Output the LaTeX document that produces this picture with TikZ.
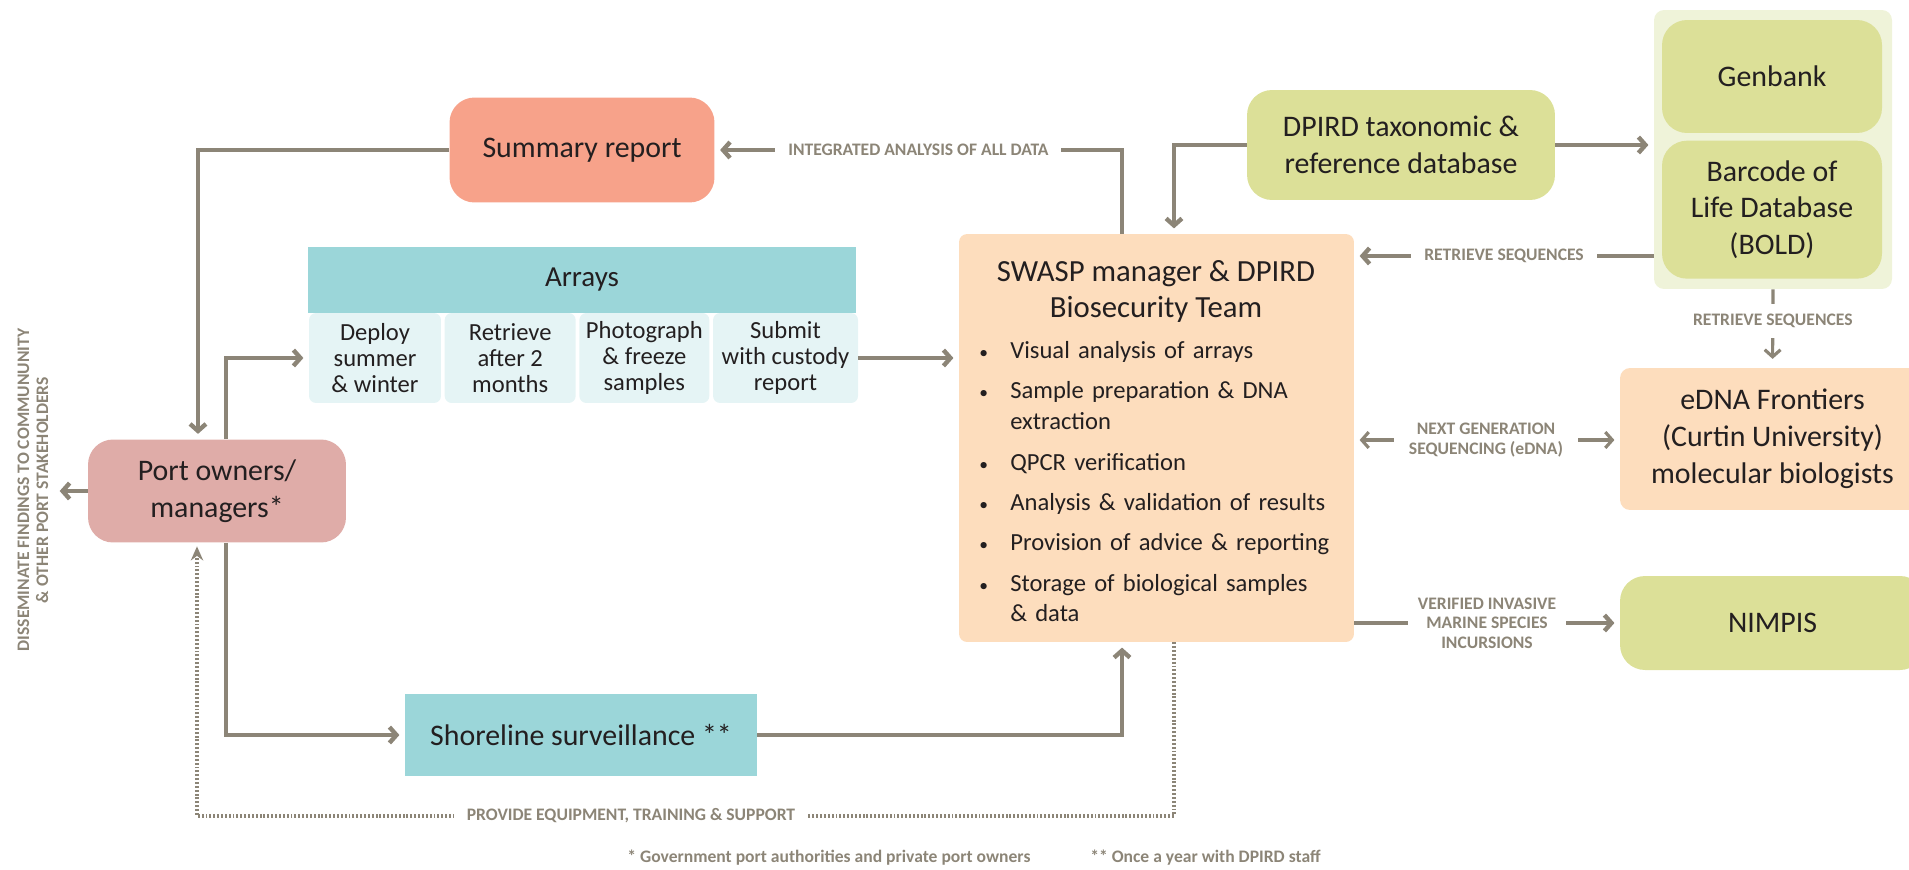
\documentclass[tikz,border=0pt]{standalone}
\usepackage{fontspec}
\setmainfont{Carlito}
\usetikzlibrary{arrows.meta,calc}
\usetikzlibrary{positioning}

\newcommand{\switem}[1]{\noindent\makebox[0.64cm][l]{\hspace{0.02cm}{\fontsize{10}{10}\selectfont\textbullet}}\parbox[t]{6.66cm}{\raggedright #1\par\xdef\swdepth{\the\prevdepth}}\par\prevdepth=\swdepth\relax}

\begin{document}
\begin{tikzpicture}[x=0.02cm,y=-0.02cm,
    box/.style={rounded corners=0.5cm,align=center,inner sep=0pt,text=ink,font=\fontsize{17}{21}\selectfont},
    substep/.style={fill=palecyan,rounded corners=0.14cm,align=center,inner sep=0pt,text=ink,minimum height=1.8cm,font=\fontsize{14}{14.6}\selectfont},
    flow/.style={draw=linegray,line width=2.5pt,-{Straight Barb[length=4pt,width=9pt]},shorten >=3pt},
    thinflow/.style={flow,line width=1.8pt},
    dotflow/.style={draw=linegray,line width=2.2pt,dash pattern=on 1.1pt off 1.1pt,-{Stealth[length=8pt,width=7pt]},shorten >=2pt},
    lbl/.style={fill=white,text=linegray,align=center,inner xsep=0.26cm,inner ysep=1pt,font=\fontsize{10}{11}\bfseries\selectfont},
    notetext/.style={text=linegray,inner sep=0pt,font=\fontsize{10}{11}\bfseries\selectfont}]
    \definecolor{ink}{HTML}{231F20}
    \definecolor{linegray}{HTML}{8C8577}
    \definecolor{salmon}{HTML}{F7A28A}
    \definecolor{dustypink}{HTML}{DFACA8}
    \definecolor{arrayteal}{HTML}{9BD6D9}
    \definecolor{palecyan}{HTML}{E5F4F5}
    \definecolor{peach}{HTML}{FDDDBD}
    \definecolor{dbgreen}{HTML}{DCE098}
    \definecolor{dbback}{HTML}{EFF3D9}
    \useasboundingbox (0,0) rectangle (1909,869);

    % left column
    \node (summary) [box,fill=salmon,minimum width=5.3cm,minimum height=2.1cm] at (582,150) {Summary report};
    \node (port) [box,fill=dustypink,minimum width=5.16cm,minimum height=2.06cm] at (217,491) {Port owners/\\managers*};
    \node (dissem) [notetext,rotate=90,align=center,font=\fontsize{10}{10.8}\bfseries\selectfont] at (33,490) {DISSEMINATE FINDINGS TO COMMUNUNITY\\\& OTHER PORT STAKEHOLDERS};

    % arrays
    \node (arrays) [fill=arrayteal,inner sep=0pt,text=ink,minimum width=10.96cm,minimum height=1.32cm,font=\fontsize{16.5}{20}\selectfont] at (582,280) {Arrays};
    \node (deploy) [substep,minimum width=2.64cm] at (375,358) {Deploy\\summer\\\& winter};
    \node (retrieve) [substep,minimum width=2.62cm,right=0.06cm of deploy] {Retrieve\\after 2\\months};
    \node (photo) [substep,minimum width=2.6cm,right=0.06cm of retrieve] {Photograph\\\& freeze\\samples};
    \node (submit) [substep,minimum width=2.9cm,right=0.06cm of photo] {Submit\\with custody\\report};

    \node (shore) [fill=arrayteal,inner sep=0pt,text=ink,minimum width=7.04cm,minimum height=1.64cm,font=\fontsize{17}{21}\selectfont] at (581,735) {Shoreline surveillance **};

    % swasp team
    \node (swasp) [fill=peach,rounded corners=0.16cm,minimum width=7.9cm,minimum height=8.16cm] at (1156.5,438) {};
    \node (swasptitle) [align=center,text=ink,inner sep=0pt,font=\fontsize{17.5}{20.5}\selectfont] at (1156,291) {SWASP manager \& DPIRD\\Biosecurity Team};
    \node (swasplist) [anchor=north west,inner sep=0pt,text=ink,align=left,text width=7.3cm,font=\fontsize{14}{17.5}\selectfont] at (978,341) {%
      \setlength{\parskip}{5.5pt}%
      \switem{Visual analysis of arrays}
      \switem{Sample preparation \& DNA\\extraction}
      \switem{QPCR verification}
      \switem{Analysis \& validation of results}
      \switem{Provision of advice \& reporting}
      \switem{Storage of biological samples\\\& data}};

    % databases
    \node (dpird) [box,fill=dbgreen,minimum width=6.16cm,minimum height=2.2cm] at (1401,145) {DPIRD taxonomic \&\\reference database};
    \node (dbs) [fill=dbback,rounded corners=0.2cm,minimum width=4.76cm,minimum height=5.58cm] at (1773,149.5) {};
    \node (genbank) [box,fill=dbgreen,minimum width=4.4cm,minimum height=2.26cm] at (1772,76.5) {Genbank};
    \node (bold) [box,fill=dbgreen,minimum width=4.4cm,minimum height=2.76cm,below=0.14cm of genbank] {Barcode of\\Life Database\\(BOLD)};

    \node (edna) [box,fill=peach,rounded corners=0.2cm,minimum width=6.1cm,minimum height=2.84cm] at (1772.5,439) {eDNA Frontiers\\(Curtin University)\\molecular biologists};
    \node (nimpis) [box,fill=dbgreen,minimum width=6.1cm,minimum height=1.88cm] at (1772.5,623) {NIMPIS};

    \node (ngs) [lbl,inner xsep=0.3cm] at (1486,440) {NEXT GENERATION\\SEQUENCING (eDNA)};

    % connectors
    \draw[flow] (summary.west) -| ([xshift=-0.38cm]port.north);
    \draw[flow] ([xshift=0.18cm]port.north) |- (deploy.west);
    \draw[flow] (submit.east) -- (submit.east -| swasp.west);
    \draw[flow] ([xshift=0.18cm]port.south) |- (shore.west);
    \draw[flow] (shore.east) -| ([xshift=-0.69cm]swasp.south);
    \draw[flow] ([xshift=-0.69cm]swasp.north) |- (summary.east) node[lbl,pos=0.75] {INTEGRATED ANALYSIS OF ALL DATA};
    \draw[flow] (dpird.west) -| ([xshift=0.35cm]swasp.north);
    \draw[flow] (dpird.east) -- (dpird.east -| dbs.west);
    \draw[flow] ([yshift=-2.13cm]dbs.west) -- ([yshift=-2.13cm]dbs.west -| swasp.east) node[lbl,midway] {RETRIEVE SEQUENCES};
    \draw[thinflow,shorten >=5pt] (dbs.south) -- (edna.north) node[lbl,pos=0.4,inner ysep=0.2cm] {RETRIEVE SEQUENCES};
    \draw[thinflow] (ngs.west) -- (ngs.west -| swasp.east);
    \draw[thinflow] (ngs.east) -- (ngs.east -| edna.west);
    \draw[flow] (nimpis.west -| swasp.east) -- (nimpis.west) node[lbl,midway,inner xsep=0.2cm] {VERIFIED INVASIVE\\MARINE SPECIES\\INCURSIONS};
    \draw[flow,shorten >=0.22cm] (port.west) -- (port.west -| dissem.south);

    % support loop
    \path ([xshift=0.35cm]swasp.south) coordinate (dotstart) ([xshift=-0.4cm]port.south) coordinate (dotend);
    \coordinate (supportrow) at (0,816);
    \draw[dotflow] (dotstart) |- (supportrow -| dotend) -- (dotend);
    \node (support) [lbl] at (631,816) {PROVIDE EQUIPMENT, TRAINING \& SUPPORT};

    % footnotes
    \node (note1) [notetext,anchor=west] at (627,858) {* Government port authorities and private port owners};
    \node (note2) [notetext,anchor=west] at (1090,858) {** Once a year with DPIRD staff};
\end{tikzpicture}
\end{document}
